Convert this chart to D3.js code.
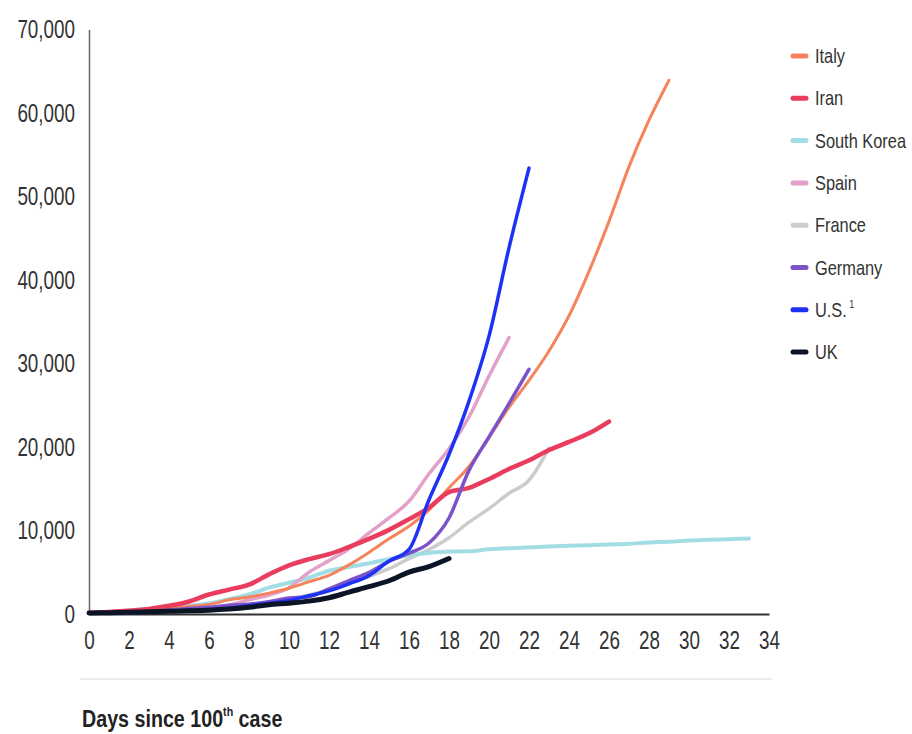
<!DOCTYPE html>
<html>
<head>
<meta charset="utf-8">
<script src="https://cdn.jsdelivr.net/npm/d3@7"></script>
<style>
  body { margin: 0; background: #fff; }
  text { font-family: "Liberation Sans", Arial, sans-serif; }
</style>
</head>
<body>
<svg id="chart" width="912" height="734"></svg>
<script>
// Cumulative cases, index = days since 100th case
const italy = [155, 229, 322, 453, 655, 888, 1128, 1694, 2036, 2502, 3089, 3858, 4636, 5883, 7375, 9000, 10500, 12462, 15113, 17660, 21157, 24747, 27980, 31506, 35713, 41035, 47021, 53578, 59138, 63927];
const iran = [139, 245, 388, 593, 978, 1501, 2336, 2922, 3513, 4747, 5823, 6566, 7161, 8042, 9000, 10075, 11364, 12729, 14600, 15100, 16169, 17361, 18407, 19644, 20610, 21638, 23049];
const southKorea = [104, 204, 433, 602, 833, 977, 1261, 1766, 2337, 3150, 3736, 4335, 5186, 5621, 6088, 6593, 7041, 7313, 7478, 7513, 7755, 7869, 7979, 8086, 8162, 8236, 8320, 8413, 8565, 8652, 8799, 8897, 8961, 9037];
const spain = [120, 165, 222, 259, 400, 500, 673, 1073, 1695, 2277, 3146, 5000, 6391, 7798, 9700, 11500, 13500, 16800, 19800, 23600, 28500, 33100];
const france = [100, 130, 191, 212, 285, 423, 613, 949, 1126, 1209, 1784, 2281, 2876, 3661, 4499, 5423, 6633, 7730, 9134, 10995, 12612, 14459, 16018, 19856];
const germany = [130, 159, 196, 262, 482, 670, 799, 1040, 1176, 1457, 1908, 2078, 3000, 4000, 5000, 6300, 7272, 8500, 11500, 17200, 21200, 25200, 29300];
const us = [100, 122, 153, 221, 319, 435, 541, 704, 994, 1301, 1630, 2183, 2770, 3613, 4596, 6344, 7731, 13680, 19101, 25493, 33276, 43847, 53400];
const uk = [115, 163, 206, 273, 321, 382, 456, 590, 798, 1100, 1300, 1543, 1950, 2626, 3269, 3983, 5018, 5683, 6650];

const countries = ["Italy", "Iran", "South Korea", "Spain", "France", "Germany", "U.S.", "UK"];
const seriesValues = [italy, iran, southKorea, spain, france, germany, us, uk];
const colors = ["#f5845c", "#ea3d5e", "#a3dde4", "#e3a0c8", "#cccccc", "#7b52c8", "#1e32f5", "#0b1526"];
const widths = [3, 4.5, 4, 3.5, 3.5, 3.5, 3.5, 5];
const drawOrder = [4, 2, 3, 0, 1, 5, 6, 7];

const xTicks = [0, 2, 4, 6, 8, 10, 12, 14, 16, 18, 20, 22, 24, 26, 28, 30, 32, 34];
const yTicks = [0, 10000, 20000, 30000, 40000, 50000, 60000, 70000];

const svg = d3.select("#chart");
const narrow = "scale(0.82,1.15)"; // узкий шрифт как в оригинале

const x = d3.scaleLinear().domain([0, 34]).range([89, 769]);
const y = d3.scaleLinear().domain([0, 70000]).range([614, 29.5]);

// оси
const yAxis = svg.append("g")
  .attr("transform", "translate(89,0)")
  .call(d3.axisLeft(y).tickValues(yTicks).tickFormat(d3.format(",")).tickSize(0).tickPadding(17));
yAxis.select(".domain").attr("stroke", "#666").attr("stroke-width", 1.5);
yAxis.selectAll("text").attr("font-size", 23).attr("fill", "#333")
  .attr("transform", narrow);

const xAxis = svg.append("g")
  .attr("transform", "translate(0,614)")
  .call(d3.axisBottom(x).tickValues(xTicks).tickSize(0).tickPadding(14));
xAxis.select(".domain").attr("stroke", "#333").attr("stroke-width", 2);
xAxis.selectAll("text").attr("font-size", 23).attr("fill", "#333")
  .attr("transform", narrow);

// линии
const line = d3.line()
  .x(d => x(d.day))
  .y(d => y(d.cases))
  .curve(d3.curveMonotoneX);

drawOrder.forEach(i => {
  const data = seriesValues[i].map((v, d) => ({ day: d, cases: v }));
  svg.append("path")
    .datum(data)
    .attr("fill", "none")
    .attr("stroke", colors[i])
    .attr("stroke-width", widths[i])
    .attr("stroke-linecap", "round")
    .attr("stroke-linejoin", "round")
    .attr("d", line);
});

// легенда
const legend = svg.append("g").attr("transform", "translate(792,56)");
countries.forEach((c, i) => {
  const g = legend.append("g").attr("transform", `translate(0,${i * 42.3})`);
  g.append("line")
    .attr("x1", 1).attr("x2", 14)
    .attr("stroke", colors[i]).attr("stroke-width", 5).attr("stroke-linecap", "round");
  const t = g.append("text")
    .attr("x", 28).attr("dy", "0.35em")
    .attr("font-size", 20).attr("fill", "#333")
    .attr("transform", "scale(0.82,1)")
    .text(c);
  if (c === "U.S.") {
    t.append("tspan").attr("font-size", 11).attr("dy", "-0.8em").attr("dx", 3).text("1");
  }
});

// подпись оси X
svg.append("line")
  .attr("x1", 80).attr("x2", 772).attr("y1", 679).attr("y2", 679)
  .attr("stroke", "#ececec").attr("stroke-width", 2);

const xl = svg.append("g").attr("transform", "translate(82,727)")
  .append("text")
  .attr("transform", "scale(0.82,1)")
  .attr("font-size", 24).attr("font-weight", "bold").attr("fill", "#222")
  .text("Days since 100");
xl.append("tspan").attr("font-size", 13).attr("dy", "-0.85em").text("th");
xl.append("tspan").attr("dy", "0.46em").text(" case");
</script>
</body>
</html>
